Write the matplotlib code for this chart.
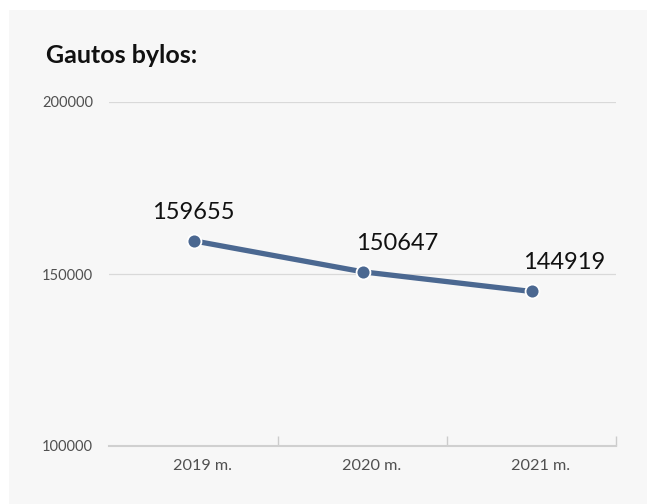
import matplotlib
matplotlib.use("Agg")
import matplotlib.pyplot as plt
import matplotlib.transforms as mtransforms
from matplotlib.patches import Rectangle

categories = ["2019 m.", "2020 m.", "2021 m."]
values = [159655, 150647, 144919]
yticks = [100000, 150000, 200000]
title = "Gautos bylos:"

# label offsets in pixels (style only)
label_offsets = [(0, 18), (35, 18), (33, 18)]

W, H = 647, 504
fig = plt.figure(figsize=(W / 100, H / 100), dpi=100)
fig.patch.set_facecolor("white")
bg = Rectangle((9 / W, 0), 1 - 9 / W, 1 - 10 / H,
               transform=fig.transFigure, facecolor="#f7f7f7",
               edgecolor="none", zorder=-10)
fig.add_artist(bg)

ax = fig.add_axes([109 / W, 1 - 446 / H, (616 - 109) / W, (446 - 102) / H])
ax.set_facecolor("none")

x = list(range(len(categories)))
ax.plot(x, values, color="#4b6891", lw=3.8, solid_capstyle="round", zorder=3,
        marker="o", markersize=10, markerfacecolor="#4b6891",
        markeredgecolor="white", markeredgewidth=1.3, clip_on=False)

for xi, v, (dx, dy) in zip(x, values, label_offsets):
    ax.annotate(str(v), (xi, v), xytext=(dx * 0.72, dy * 0.72),
                textcoords="offset points", ha="center", va="bottom",
                fontsize=17, family="Lato", color="#111111")

ax.set_xlim(-0.5, 2.5)
ax.set_ylim(100000, 200000)
ax.set_yticks(yticks)
ax.set_yticklabels([str(t) for t in yticks], fontsize=10.5, family="Lato",
                   color="#505050")
ax.set_xticks(x)
ax.set_xticklabels(categories, fontsize=11.7, family="Lato", color="#505050")
ax.tick_params(axis="y", length=0, pad=11.5)
ax.tick_params(axis="x", length=0, pad=9)
shift = mtransforms.ScaledTranslation(9 / 100, 0, fig.dpi_scale_trans)
for lbl in ax.get_xticklabels():
    lbl.set_transform(lbl.get_transform() + shift)

# minor ticks at category boundaries
ax.set_xticks([0.5, 1.5, 2.5], minor=True)
ax.tick_params(axis="x", which="minor", direction="in", length=7,
               color="#cccccc", width=1)

ax.grid(axis="y", color="#d9d9d9", lw=0.9)
ax.set_axisbelow(True)
for s in ["top", "right", "left"]:
    ax.spines[s].set_visible(False)
ax.spines["bottom"].set_color("#d0d0d0")
ax.spines["bottom"].set_linewidth(1.5)

fig.text(46 / W, 1 - 63 / H, title, fontsize=18, fontweight="bold",
         family="Lato", color="#111111", ha="left", va="baseline")

fig.savefig("out.png", dpi=100)
